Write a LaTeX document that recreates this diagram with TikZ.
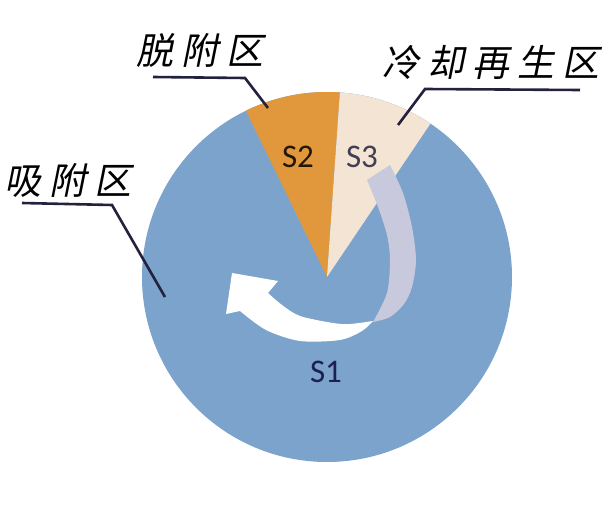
\documentclass[tikz,border=0pt]{standalone}
\usepackage{fontspec}
\newfontfamily\cjk[FakeSlant=0.2]{Noto Sans CJK SC}
\newfontfamily\calib{Carlito}
\usepackage{xcolor}
\definecolor{sorbblue}{HTML}{7BA3CC}
\definecolor{desorange}{HTML}{E1973B}
\definecolor{coolcream}{HTML}{F3E4D3}
\definecolor{ribbongray}{HTML}{C9C9DD}
\definecolor{leadnavy}{HTML}{22223F}
\tikzstyle{leader}=[draw=leadnavy, line width=2.6pt, line join=miter]
\tikzstyle{zone}=[font=\cjk\fontsize{37}{37}\selectfont, inner sep=0pt]
\tikzstyle{sector}=[font=\calib\fontsize{33}{33}\selectfont, inner sep=0pt]

\begin{document}
\begin{tikzpicture}[x=1pt,y=-1pt]
\useasboundingbox[fill=white] (0,0) rectangle (614,506);
\coordinate (c) at (327,277);
% pie sectors
\fill[sorbblue] (c) circle (185);
\fill[desorange] (c) -- ++(-116:185) arc (-116:-86:185) -- cycle;
\fill[coolcream] (c) -- ++(-86:185) arc (-86:-56:185) -- cycle;
% rotating ribbon arrow
\fill[ribbongray] plot[smooth] coordinates {(390,165) (403,193) (412,227) (416,260) (412,287) (404,304) (390,317) (373,322)}
  -- plot[smooth] coordinates {(373,322) (387,293) (390,260) (387,235) (378,207) (367,180)} -- cycle;
\fill[white] plot[smooth] coordinates {(373,321) (350,324) (333,323) (300,316) (282,305) (268,293)}
  -- (278,281) -- (232,273) -- (226,314)
  -- plot[smooth] coordinates {(240,311) (266,330) (300,341) (340,340) (362,331) (373,321)} -- cycle;
% sector labels
\node[sector, text=leadnavy!90!blue] (s1) at (326,372) {S1};
\node[sector, text=desorange!15!black] (s2) at (298,157) {S2};
\node[sector, text=leadnavy!85!coolcream] (s3) at (362,157) {S3};
% zone labels
\node[zone] (ads) at (68,180) {吸\hspace{8pt}附\hspace{8pt}区};
\node[zone] (des) at (200,50) {脱\hspace{8pt}附\hspace{8pt}区};
\node[zone] (cool) at (491,62) {冷\hspace{8pt}却\hspace{8pt}再\hspace{8pt}生\hspace{8pt}区};
\coordinate (adsA) at (22,203);
\coordinate (adsB) at (112,205);
\coordinate (adsC) at (165,297);
\coordinate (desA) at (153,77);
\coordinate (desB) at (245,78);
\coordinate (desC) at (268,108);
\coordinate (coolA) at (580,90);
\coordinate (coolB) at (425,89);
\coordinate (coolC) at (398,125);
\draw[leader] (adsA) -- (adsB) -- (adsC);
\draw[leader] (desA) -- (desB) -- (desC);
\draw[leader] (coolA) -- (coolB) -- (coolC);
\end{tikzpicture}
\end{document}
